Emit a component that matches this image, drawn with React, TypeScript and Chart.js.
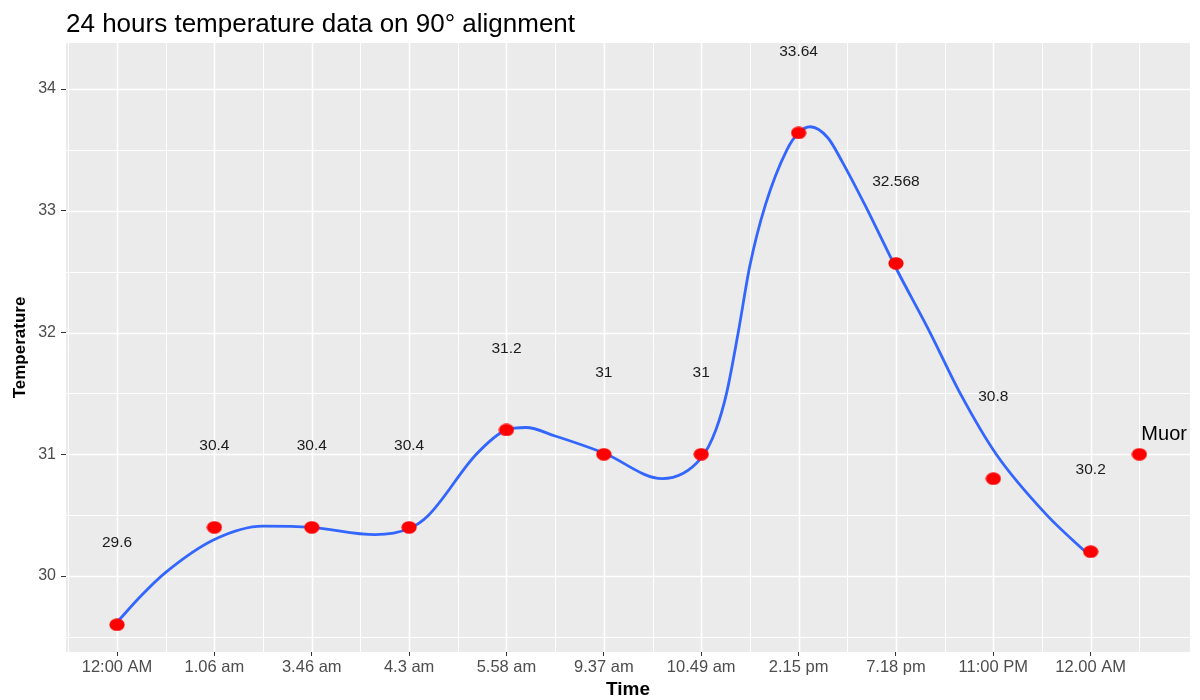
import { useEffect, useRef } from 'react'
import { Chart, registerables } from 'chart.js'

Chart.register(...registerables)

const FONT = '"Liberation Sans", Arial, sans-serif'

const title = '24 hours temperature data on 90° alignment'
const times = ['12:00 AM', '1.06 am', '3.46 am', '4.3 am', '5.58 am', '9.37 am', '10.49 am', '2.15 pm', '7.18 pm', '11:00 PM', '12.00 AM']
const temps = [29.6, 30.4, 30.4, 30.4, 31.2, 31, 31, 33.64, 32.568, 30.8, 30.2]

// extra annotated point
const muorLabel = 'Muor'
const muorX = 10.5
const muorY = 31

// smoothed curve (x = category position)
const smoothX = [0, 0.25, 0.5, 1, 1.5, 2, 2.65, 3, 3.2, 3.69, 4, 4.2, 4.5, 5, 5.6, 6, 6.15, 6.26, 6.38, 6.5, 6.66, 6.88, 7, 7.12, 7.3, 7.45, 7.68, 8, 8.35, 8.66, 9.03, 9.55, 10]
const smoothY = [29.62, 29.84, 30.03, 30.3, 30.41, 30.4, 30.34, 30.39, 30.5, 31.0, 31.2, 31.22, 31.15, 31.01, 30.8, 30.97, 31.2, 31.5, 32, 32.55, 33.05, 33.5, 33.64, 33.69, 33.6, 33.4, 33.05, 32.53, 32, 31.5, 31.0, 30.5, 30.16]

const yTicks = [30, 31, 32, 33, 34]
const yMinor = [29.5, 30.5, 31.5, 32.5, 33.5]
const xMinor = [-0.5, 0.5, 1.5, 2.5, 3.5, 4.5, 5.5, 6.5, 7.5, 8.5, 9.5, 10.5]

const X_MIN = -0.524
const X_MAX = 11.02
const Y_MIN = 29.376
const Y_MAX = 34.378
const LABEL_LIFT = 0.67

export default function App() {
  const canvasRef = useRef<HTMLCanvasElement>(null)

  useEffect(() => {
    if (!canvasRef.current) return
    document.body.style.margin = '0'

    // ggplot points come out slightly oval in the reference
    const dot = document.createElement('canvas')
    dot.width = 16; dot.height = 13
    const dc = dot.getContext('2d')!
    dc.fillStyle = '#FF0000'
    dc.beginPath(); dc.ellipse(8, 6.5, 7.6, 6.3, 0, 0, Math.PI * 2); dc.fill()

    const panelPlugin = {
      id: 'panel',
      beforeDraw(chart: Chart) {
        const { ctx: c, chartArea: { left, right, top, bottom }, scales } = chart
        const x = scales['x'], y = scales['y']
        c.save()
        c.fillStyle = '#EBEBEB'
        c.fillRect(left, top, right - left, bottom - top)
        c.strokeStyle = '#FFFFFF'
        const hLine = (v: number) => { const p = Math.round(y.getPixelForValue(v)) + 0.5; c.beginPath(); c.moveTo(left, p); c.lineTo(right, p); c.stroke() }
        const vLine = (v: number) => { const p = Math.round(x.getPixelForValue(v)) + 0.5; c.beginPath(); c.moveTo(p, top); c.lineTo(p, bottom); c.stroke() }
        c.lineWidth = 1
        yMinor.forEach(hLine)
        xMinor.forEach(vLine)
        c.lineWidth = 1.6
        yTicks.forEach(hLine)
        times.forEach((_, i) => vLine(i))
        c.restore()
      },
    }

    const textPlugin = {
      id: 'texts',
      afterDatasetsDraw(chart: Chart) {
        const { ctx: c, scales } = chart
        const x = scales['x'], y = scales['y']
        c.save()
        c.font = `15.5px ${FONT}`
        c.fillStyle = '#1a1a1a'
        c.textAlign = 'center'
        c.textBaseline = 'middle'
        temps.forEach((v, i) => c.fillText(String(v), x.getPixelForValue(i), y.getPixelForValue(v + LABEL_LIFT)))
        c.font = `20px ${FONT}`
        c.fillStyle = '#000'
        c.textAlign = 'left'
        c.fillText(muorLabel, x.getPixelForValue(muorX) + 2, y.getPixelForValue(muorY) - 20)
        c.restore()
      },
      afterDraw(chart: Chart) {
        const { ctx: c, chartArea: { left, right, top, bottom } } = chart
        c.save()
        c.fillStyle = '#000'
        c.font = `26px ${FONT}`
        c.textAlign = 'left'
        c.textBaseline = 'alphabetic'
        c.fillText(title, left, 32)
        c.font = `bold 19px ${FONT}`
        c.textAlign = 'center'
        c.fillText('Time', (left + right) / 2, 695)
        c.translate(20, (top + bottom) / 2)
        c.rotate(-Math.PI / 2)
        c.font = `bold 17px ${FONT}`
        c.textBaseline = 'middle'
        c.fillText('Temperature', 0, 0)
        c.restore()
      },
    }

    const chart = new Chart(canvasRef.current, {
      type: 'scatter',
      data: {
        datasets: [
          {
            label: 'Temperature',
            data: temps.map((y, i) => ({ x: i, y })),
            pointStyle: dot as any,
            pointRadius: 7,
            backgroundColor: '#FF0000',
            borderWidth: 0,
          },
          {
            label: muorLabel,
            data: [{ x: muorX, y: muorY }],
            pointStyle: dot as any,
            pointRadius: 7,
            backgroundColor: '#FF0000',
            borderWidth: 0,
          },
          {
            type: 'line',
            label: 'smooth',
            data: smoothX.map((x, i) => ({ x, y: smoothY[i] })),
            borderColor: '#3366FF',
            borderWidth: 2.8,
            pointRadius: 0,
            fill: false,
            cubicInterpolationMode: 'monotone',
          } as any,
        ],
      },
      options: {
        responsive: true,
        maintainAspectRatio: false,
        animation: false,
        layout: { padding: { top: 43, right: 10, bottom: 0, left: 0 } },
        plugins: { legend: { display: false }, tooltip: { enabled: false }, title: { display: false } },
        scales: {
          x: {
            type: 'linear',
            min: X_MIN, max: X_MAX,
            afterBuildTicks: (s: any) => { s.ticks = times.map((_, i) => ({ value: i })) },
            afterFit: (s: any) => { s.height = 48 },
            ticks: {
              callback: (_v: any, i: number) => times[i],
              autoSkip: false, maxRotation: 0, padding: 2,
              color: '#4D4D4D', font: { size: 16.5, family: FONT },
            },
            grid: { drawOnChartArea: false, tickColor: '#333333', tickLength: 4 },
            border: { display: false },
          },
          y: {
            type: 'linear',
            min: Y_MIN, max: Y_MAX,
            afterBuildTicks: (s: any) => { s.ticks = yTicks.map(v => ({ value: v })) },
            afterFit: (s: any) => { s.width = 66 },
            ticks: { padding: 5, color: '#4D4D4D', font: { size: 16, family: FONT } },
            grid: { drawOnChartArea: false, tickColor: '#333333', tickLength: 5 },
            border: { display: false },
          },
        },
      },
      plugins: [panelPlugin as any, textPlugin as any],
    })

    return () => { chart.destroy() }
  }, [])

  return (
    <div style={{ position: 'relative', width: 1200, height: 700, background: '#fff' }}>
      <canvas ref={canvasRef} />
    </div>
  )
}
